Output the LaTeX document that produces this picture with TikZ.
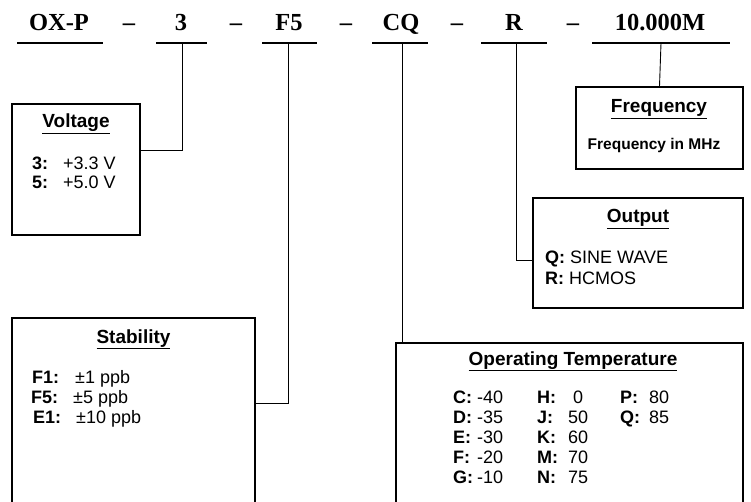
\documentclass[tikz,border=0pt]{standalone}
\usepackage{fontspec}
\setmainfont{Liberation Serif}
\setsansfont{Liberation Sans}
\begin{document}
\begin{tikzpicture}[x=1pt,y=-1pt,
    code/.style={anchor=base, inner sep=0pt, font=\rmfamily\bfseries\fontsize{24.5}{28}\selectfont},
    box/.style={draw=black, line width=1.7pt, fill=white, inner sep=0pt},
    head/.style={anchor=base, inner sep=0pt, font=\sffamily\bfseries\fontsize{19}{22}\selectfont},
    body/.style={anchor=base west, inner sep=0pt, font=\sffamily\fontsize{18}{21}\selectfont},
    uline/.style={line width=1.8pt},
    link/.style={line width=0.9pt}]
    \useasboundingbox (0,0) rectangle (751,502);
    \clip (0,0) rectangle (751,502);

    % part number
    \node[code] (oxp) at (59,31) {OX-P};
    \node[code] (c3) at (181,31) {3};
    \node[code] (cf5) at (289,31) {F5};
    \node[code] (ccq) at (401,31) {CQ};
    \node[code] (cr) at (514,31) {R};
    \node[code] (cfreq) at (660,31) {10.000M};
    \foreach \x [count=\i] in {129,236,346,457,573}
        \node[code] (dash\i) at (\x,31) {\textendash};
    \foreach \a/\b in {17/103,156/207,262/317,372/428,481/547,592/730}
        \draw[uline] (\a,43) -- (\b,43);
    \coordinate (u3) at (182,43);
    \coordinate (uf5) at (288,43);
    \coordinate (ucq) at (402,43);
    \coordinate (ur) at (516,43);
    \coordinate (ufreq) at (661,43);

    % voltage
    \node[box, minimum width=128, minimum height=131] (volt) at (76,169.5) {};
    \node[head] (volthead) at (76,128) {\underline{Voltage}};
    \foreach \y/\k/\v in {170/3/+3.3 V,189/5/+5.0 V} {
        \node[body] (voltk\k) at (32,\y) {\textbf{\k:}};
        \node[body] (voltv\k) at (63,\y) {\v};
    }

    % stability
    \node[box, minimum width=243, minimum height=222] (stab) at (133.5,429) {};
    \node[head] (stabhead) at (133.5,343) {\underline{Stability}};
    \node[body] (stabk1) at (32,383) {\textbf{F1:}};  \node[body] (stabv1) at (75,383) {±1 ppb};
    \node[body] (stabk2) at (31,403) {\textbf{F5:}};  \node[body] (stabv2) at (73,403) {±5 ppb};
    \node[body] (stabk3) at (33,423) {\textbf{E1:}};  \node[body] (stabv3) at (76,423) {±10 ppb};

    % frequency
    \node[box, minimum width=167, minimum height=82] (freq) at (659.5,128) {};
    \node[head] (freqhead) at (659,113) {\underline{Frequency}};
    \node[body, anchor=base, font=\sffamily\bfseries\fontsize{15.5}{18}\selectfont] (freqtext) at (654,150) {Frequency in MHz};

    % output
    \node[box, minimum width=210, minimum height=110] (out) at (638,253) {};
    \node[head] (outhead) at (638,223) {\underline{Output}};
    \node[body] (outq) at (545,264) {\textbf{Q:} SINE WAVE};
    \node[body] (outr) at (545,284) {\textbf{R:} HCMOS};

    % operating temperature
    \node[box, minimum width=347, minimum height=197] (temp) at (569.5,441.5) {};
    \node[head] (temphead) at (573,365) {\underline{Operating Temperature}};
    \foreach \k/\v [count=\i] in {C/-40,D/-35,E/-30,F/-20,G/-10} {
        \node[body] (tempk\k) at (453,383+20*\i) {\textbf{\k:}};
        \node[body] (tempv\k) at (477,383+20*\i) {\v};
    }
    \foreach \k/\v [count=\i] in {H/\ 0,J/50,K/60,M/70,N/75} {
        \node[body] (tempk\k) at (537,383+20*\i) {\textbf{\k:}};
        \node[body] (tempv\k) at (568,383+20*\i) {\v};
    }
    \node[body] (tempkP) at (620,403) {\textbf{P:}};  \node[body] (tempvP) at (649,403) {80};
    \node[body] (tempkQ) at (620,423) {\textbf{Q:}};  \node[body] (tempvQ) at (649,423) {85};

    % links
    \coordinate (voltin) at (140,150);
    \coordinate (stabin) at (255,403);
    \coordinate (outin) at (533,260);
    \draw[link] (u3) |- (voltin);
    \draw[link] (uf5) |- (stabin);
    \draw[link] (ucq) -- (ucq |- temp.north);
    \draw[link] (ur) |- (outin);
    \draw[link] (ufreq) -- (freq.north);
\end{tikzpicture}
\end{document}
